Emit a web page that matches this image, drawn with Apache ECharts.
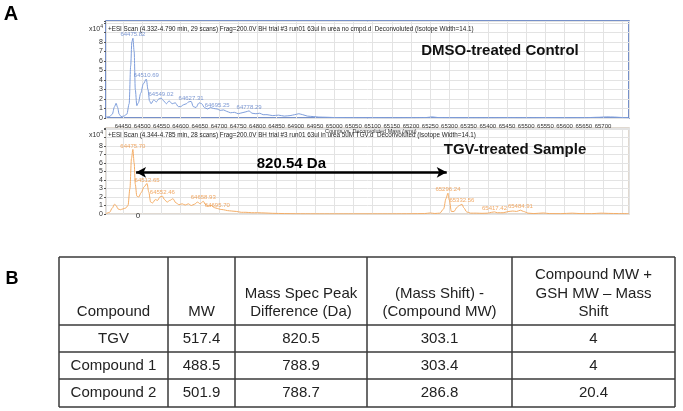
<!DOCTYPE html>
<html><head><meta charset="utf-8">
<script src="https://cdn.jsdelivr.net/npm/echarts@6/dist/echarts.min.js"></script>
<style>html,body{margin:0;padding:0;background:#fff}#c{width:683px;height:411px}</style>
</head><body><div id="c"></div><script>
// ---- Panel A data (deconvoluted mass spectra, counts x10^4) ----
const topMass = [64406,64415,64422,64428,64432,64436,64440,64445,64452,64460,64466,64470,64473,64475.82,64479,64482,64486,64490,64496,64503,64510.69,64515,64519,64523,64530,64537,64543,64549.02,64556,64563,64570,64578,64586,64594,64600,64608,64615,64621,64627.31,64633,64640,64648,64655,64662,64670,64678,64686,64695.25,64703,64712,64720,64730,64740,64750,64760,64770,64778.29,64786,64796,64806,64815,64825,64840,64855,64870,64885,64897,64908,64918,64930,64945,64960,64980,65000,65030,65060,65100,65150,65200,65240,65255,65270,65300,65350,65400,65450,65500,65550,65600,65650,65690,65710,65730,65750,65767];
const topIntensity = [0.1,0.15,0.4,1.2,1.55,1.1,0.4,0.15,0.2,0.4,1.5,5.5,8.0,8.4,7.0,3.0,1.3,1.6,2.6,3.6,4.1,3.0,1.8,1.5,1.9,1.7,2.0,2.1,1.8,1.5,1.8,1.5,1.6,1.2,1.2,1.4,1.5,1.7,1.75,1.2,1.1,1.6,1.5,1.1,0.95,1.1,1.0,0.95,0.8,0.85,0.7,0.55,0.6,0.45,0.55,0.65,0.75,0.5,0.45,0.5,0.35,0.35,0.25,0.3,0.2,0.25,0.35,0.45,0.35,0.2,0.15,0.1,0.08,0.05,0.04,0.03,0.03,0.02,0.03,0.05,0.12,0.05,0.03,0.02,0.02,0.03,0.02,0.03,0.02,0.03,0.08,0.12,0.1,0.05,0.03];
const topPeakMass = [64475.82,64510.69,64549.02,64627.31,64695.25,64778.29];
const topPeakHeight = [8.4,4.1,2.1,1.75,0.95,0.75];

const bottomMass = [64406,64415,64422,64428,64432,64437,64443,64450,64457,64463,64468,64472,64475.70,64479,64482,64486,64491,64497,64505,64512.65,64517,64522,64527,64534,64540,64546,64552.46,64558,64565,64572,64580,64588,64596,64604,64612,64620,64628,64636,64644,64651,64658.93,64665,64672,64680,64688,64695.70,64703,64712,64722,64733,64745,64758,64770,64785,64800,64820,64840,64870,64900,64950,65000,65050,65100,65150,65200,65235,65250,65262,65275,65285,65291,65296.24,65300,65305,65312,65320,65326,65332.56,65338,65345,65355,65370,65385,65400,65410,65417.42,65425,65440,65455,65465,65475,65484.91,65493,65505,65520,65545,65560,65590,65620,65640,65670,65695,65715,65740,65767];
const bottomIntensity = [0.05,0.2,0.7,1.15,1.0,0.6,0.5,0.6,0.7,1.0,3.0,6.5,7.6,6.0,3.5,2.1,2.0,2.5,3.2,3.6,2.6,1.4,1.3,1.7,1.6,2.0,2.1,1.7,1.4,1.6,1.8,1.3,1.1,1.2,1.05,1.2,1.0,1.15,1.4,1.2,1.5,1.1,0.9,1.0,0.75,0.65,0.55,0.5,0.4,0.35,0.3,0.2,0.2,0.15,0.15,0.12,0.08,0.05,0.03,0.02,0.02,0.02,0.02,0.02,0.03,0.05,0.12,0.06,0.1,0.6,1.8,2.45,1.6,0.3,0.3,0.8,1.0,1.15,0.7,0.25,0.1,0.1,0.08,0.1,0.2,0.25,0.15,0.15,0.3,0.35,0.3,0.45,0.3,0.1,0.05,0.12,0.05,0.04,0.1,0.05,0.04,0.1,0.07,0.05,0.04];
const bottomPeakMass = [64475.70,64512.65,64552.46,64658.93,64695.70,65296.24,65332.56,65417.42,65484.91];
const bottomPeakHeight = [7.6,3.6,2.1,1.5,0.65,2.45,1.15,0.25,0.45];

const arrowStart = 64484, arrowEnd = 65293, arrowLevel = 4.9;
const arrowLabel = '820.54 Da';
const massMin = 64405.7, massMax = 65767.7;
const lastMassLabel = 65700;
const yTicksShown = 8;

const topHeader = '+ESI Scan (4.332-4.790 min, 29 scans) Frag=200.0V BH trial #3 run01 63ul in urea no cmpd.d  Deconvoluted (Isotope Width=14.1)';
const bottomHeader = '+ESI Scan (4.344-4.785 min, 28 scans) Frag=200.0V BH trial #3 run01 63ul in urea 5uM TGV.d  Deconvoluted (Isotope Width=14.1)';
const xTitle = 'Counts vs. Deconvoluted Mass (amu)';
const topTitle = 'DMSO-treated Control';
const bottomTitle = 'TGV-treated Sample';

// ---- Panel B table data ----
const tableHeaders = ['Compound','MW','Mass Spec Peak\nDifference (Da)','(Mass Shift) -\n(Compound MW)','Compound MW +\nGSH MW \u2013 Mass\nShift'];
const compounds = ['TGV','Compound 1','Compound 2'];
const mwValues = ['517.4','488.5','501.9'];
const peakDiff = ['820.5','788.9','788.7'];
const shiftMinusMW = ['303.1','303.4','286.8'];
const gshCalc = ['4','4','20.4'];

const FONT = "'Liberation Sans', Arial, sans-serif";
const zip = (a, b) => a.map((v, i) => [v, b[i]]);

const colX = [59,168,235,367,512,675];
const rowY = [257,325,352,379,407];
const graphics = [];
function txt(x, y, text, style) {
  graphics.push({type:'text', x, y, z:100, silent:true, style: Object.assign({text, fontFamily: FONT, fill:'#222'}, style)});
}
// table lines
colX.forEach(x => graphics.push({type:'line', z:100, silent:true, shape:{x1:x,y1:rowY[0],x2:x,y2:rowY[rowY.length-1]}, style:{stroke:'#3a3a3a', lineWidth:1.5}}));
rowY.forEach(y => graphics.push({type:'line', z:100, silent:true, shape:{x1:colX[0],y1:y,x2:colX[colX.length-1],y2:y}, style:{stroke:'#3a3a3a', lineWidth:1.5}}));
const colCenter = i => (colX[i] + colX[i+1]) / 2;
tableHeaders.forEach((h, i) => txt(colCenter(i), 321, h, {fontSize:15, align:'center', verticalAlign:'bottom', lineHeight:18.3}));
const tableCols = [compounds, mwValues, peakDiff, shiftMinusMW, gshCalc];
tableCols.forEach((col, i) => col.forEach((v, r) => txt(colCenter(i), (rowY[r+1] + rowY[r+2]) / 2, v, {fontSize:15, align:'center', verticalAlign:'middle'})));

// panel letters & annotations
txt(11, 14, 'A', {fontSize:20, fontWeight:'bold', fill:'#000', align:'center', verticalAlign:'middle'});
txt(12, 279, 'B', {fontSize:18, fontWeight:'bold', fill:'#000', align:'center', verticalAlign:'middle'});
[29, 135].forEach(y => graphics.push({type:'text', x:103, y, z:100, silent:true, style:{text:'{a|x10}{b|4}', rich:{a:{fontSize:7, fontFamily:FONT, fill:'#333'}, b:{fontSize:5, fontFamily:FONT, fill:'#333', verticalAlign:'top', padding:[0,0,4,0]}}, align:'right', verticalAlign:'middle'}}));
txt(108, 29, topHeader, {fontSize:6.3, verticalAlign:'middle', fill:'#222'});
txt(108, 135, bottomHeader, {fontSize:6.3, verticalAlign:'middle', fill:'#222'});
txt(325, 131, xTitle, {fontSize:5.5, verticalAlign:'middle', fill:'#333'});
txt(500, 51, topTitle, {fontSize:15, fontWeight:'bold', fill:'#111', align:'center', verticalAlign:'middle'});
txt(515, 149.5, bottomTitle, {fontSize:15, fontWeight:'bold', fill:'#111', align:'center', verticalAlign:'middle'});
txt(138, 216, '0', {fontSize:8, fill:'#333', align:'center', verticalAlign:'middle'});

function xAxis(gi, showLabels) {
  return {type:'value', gridIndex:gi, min:massMin, max:massMax, splitNumber:27, minInterval:50, maxInterval:50,
    axisLine:{show:false}, axisTick:{show:false},
    axisLabel:{show:showLabels, fontSize:6, fontFamily:FONT, color:'#333', margin:5, hideOverlap:false,
      formatter: v => (Math.abs(v % 50) < 1e-6 && v <= lastMassLabel ? String(v) : '')},
    splitLine:{show:true, lineStyle:{color:'#e3e3e3', width:1}}};
}
function yAxis(gi, max) {
  return {type:'value', gridIndex:gi, min:0, max, interval:1,
    axisLine:{show:false}, axisTick:{show:true, length:2, lineStyle:{color:'#555'}},
    axisLabel:{fontSize:7, fontFamily:FONT, color:'#333', margin:3,
      formatter: v => (v <= yTicksShown && Math.abs(v - Math.round(v)) < 1e-6 ? String(v) : '')},
    splitLine:{show:true, lineStyle:{color:'#e3e3e3', width:1}}};
}
function peakSeries(xi, masses, heights, color) {
  return {type:'scatter', xAxisIndex:xi, yAxisIndex:xi, symbol:'circle', symbolSize:1, silent:true,
    itemStyle:{color:'rgba(0,0,0,0)'}, z:5,
    label:{show:true, position:'top', distance:0, fontSize:6, fontFamily:FONT, color,
      formatter: p => p.value[0].toFixed(2)},
    data: zip(masses, heights)};
}

const chart = echarts.init(document.getElementById('c'), null, {renderer:'canvas'});
chart.setOption({
  animation:false,
  backgroundColor:'#fff',
  grid:[
    {left:106, top:21, width:523, height:97, show:true, borderColor:'#4a6cb8', borderWidth:1.5, backgroundColor:'#fff'},
    {left:106, top:128, width:523, height:86, show:true, borderColor:'#d6cdc2', borderWidth:1.5, backgroundColor:'#fff'}
  ],
  xAxis:[xAxis(0, true), xAxis(1, false)],
  yAxis:[yAxis(0, 10.21), yAxis(1, 10.12)],
  series:[
    {type:'line', xAxisIndex:0, yAxisIndex:0, data:zip(topMass, topIntensity), showSymbol:false, smooth:0.3, smoothMonotone:'x',
      lineStyle:{color:'#7f9edb', width:1}, silent:true},
    peakSeries(0, topPeakMass, topPeakHeight, '#5b7ec8'),
    {type:'line', xAxisIndex:1, yAxisIndex:1, data:zip(bottomMass, bottomIntensity), showSymbol:false, smooth:0.3, smoothMonotone:'x',
      lineStyle:{color:'#f4ad66', width:1}, silent:true,
      markLine:{silent:true, symbol:['arrow','arrow'], symbolSize:[8,10], animation:false,
        lineStyle:{color:'#000', width:2.5, type:'solid'},
        label:{show:true, position:'insideMiddleTop', distance:1, formatter:arrowLabel, fontSize:15, fontWeight:'bold', fontFamily:FONT, color:'#000'},
        data:[[{coord:[arrowStart, arrowLevel]}, {coord:[arrowEnd, arrowLevel]}]]}},
    peakSeries(1, bottomPeakMass, bottomPeakHeight, '#ee9340')
  ],
  graphic: graphics
});
</script></body></html>
